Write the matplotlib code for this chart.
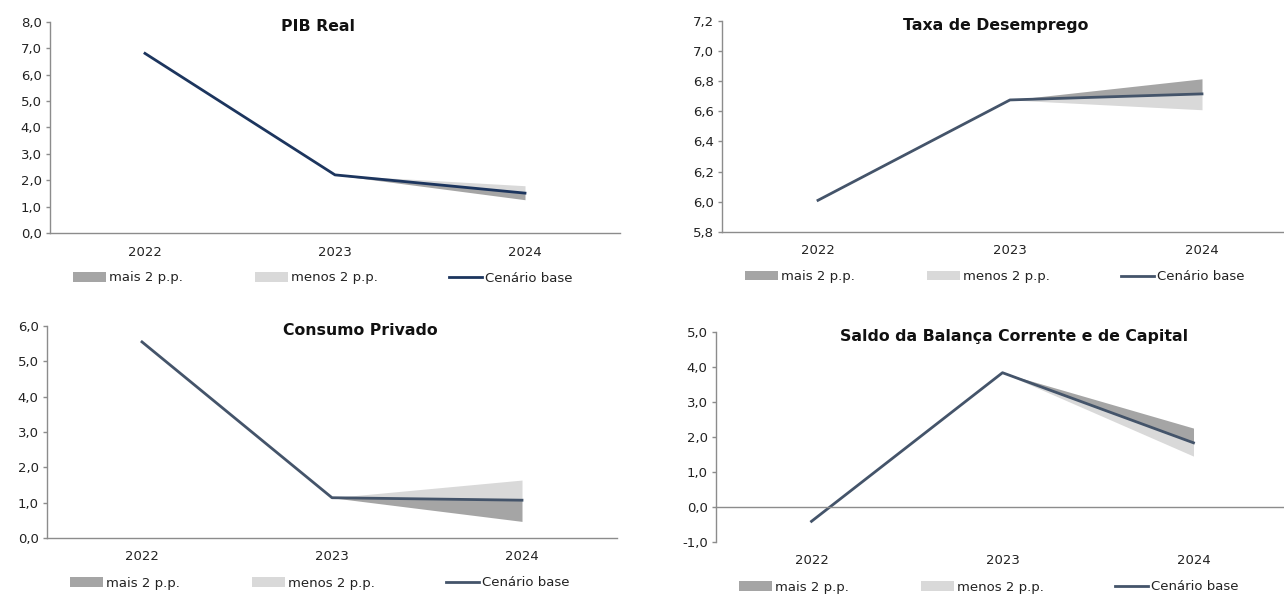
import matplotlib.pyplot as plt
from matplotlib.ticker import FuncFormatter, MultipleLocator
from matplotlib.patches import Patch
from matplotlib.lines import Line2D

anos = ['2022', '2023', '2024']

# cenário base e extremos das bandas em 2024
pib_base = [6.8, 2.2, 1.51]
pib_mais = 1.26
pib_menos = 1.79

desemp_base = [6.01, 6.675, 6.715]
desemp_mais = 6.815
desemp_menos = 6.61

consumo_base = [5.55, 1.14, 1.07]
consumo_mais = 0.47
consumo_menos = 1.64

saldo_base = [-0.41, 3.83, 1.83]
saldo_mais = 2.25
saldo_menos = 1.45

W, H = 1284, 594
fig = plt.figure(figsize=(W / 100, H / 100), dpi=100)
plt.rcParams['font.family'] = ['DejaVu Sans']

escuro = '#a5a5a5'
claro = '#d9d9d9'
eixo = '#8c8c8c'
texto = '#222222'

paineis = [
    # titulo, base, mais, menos, ylim, passo, cor linha, (x0, topo, larg, baixo) px, titulo x px
    ('PIB Real', pib_base, pib_mais, pib_menos, (0, 8), 1, '#1c355e', (50, 21.7, 570, 233), 318),
    ('Taxa de Desemprego', desemp_base, desemp_mais, desemp_menos, (5.8, 7.2), 0.2, '#44546a',
     (722, 20.7, 576, 232), 996),
    ('Consumo Privado', consumo_base, consumo_mais, consumo_menos, (0, 6), 1, '#44546a',
     (47, 326, 570, 538), 360),
    ('Saldo da Balança Corrente e de Capital', saldo_base, saldo_mais, saldo_menos, (-1, 5), 1, '#44546a',
     (716, 331.7, 573, 542), 1014),
]

fmt = FuncFormatter(lambda v, p: f'{v:.1f}'.replace('.', ','))

for titulo, base, mais, menos, ylim, passo, cor, (x0, topo, larg, baixo), tx in paineis:
    ax = fig.add_axes([x0 / W, 1 - baixo / H, larg / W, (baixo - topo) / H])
    x = list(range(len(anos)))
    ax.fill_between(x[1:], base[1:], [base[1], mais], color=escuro, lw=0)
    ax.fill_between(x[1:], base[1:], [base[1], menos], color=claro, lw=0)
    ax.plot(x, base, color=cor, lw=2)
    ax.set_xlim(-0.5, 2.5)
    ax.set_ylim(*ylim)
    ax.yaxis.set_major_locator(MultipleLocator(passo))
    ax.yaxis.set_major_formatter(fmt)
    ax.set_xticks(x)
    ax.set_xticklabels(anos)
    for s in ['top', 'right']:
        ax.spines[s].set_visible(False)
    for s in ['left', 'bottom']:
        ax.spines[s].set_color(eixo)
        ax.spines[s].set_linewidth(1)
    pad_x = 9
    if ylim[0] < 0:
        # eixo horizontal em zero, anos por baixo do mínimo
        ax.spines['bottom'].set_position(('data', 0))
        pad_x += (baixo - topo) / (ylim[1] - ylim[0]) * (0 - ylim[0]) * 0.72
    ax.tick_params(axis='x', length=0, pad=pad_x, labelsize=9.5, colors=texto)
    ax.tick_params(axis='y', length=3, width=1, color=eixo, pad=3, labelsize=9.5, labelcolor=texto)
    ax.patch.set_visible(False)

    fig.text(tx / W, 1 - (topo + 4.5) / H, titulo, ha='center', va='center',
             fontsize=11.3, fontweight='bold', color='#111111')

    ly = 1 - (baixo + 45) / H
    itens = [
        (Patch(facecolor=escuro, edgecolor='none'), 'mais 2 p.p.', 23),
        (Patch(facecolor=claro, edgecolor='none'), 'menos 2 p.p.', 205),
        (Line2D([], [], color=cor, lw=2), 'Cenário base', 399),
    ]
    for h, lab, dx in itens:
        fig.legend(handles=[h], labels=[lab], loc='center left',
                   bbox_to_anchor=((x0 + dx) / W, ly), frameon=False,
                   borderpad=0, borderaxespad=0, handlelength=2.5,
                   handletextpad=0.25, fontsize=9.5, labelcolor=texto)

fig.savefig('out.png', dpi=100)
